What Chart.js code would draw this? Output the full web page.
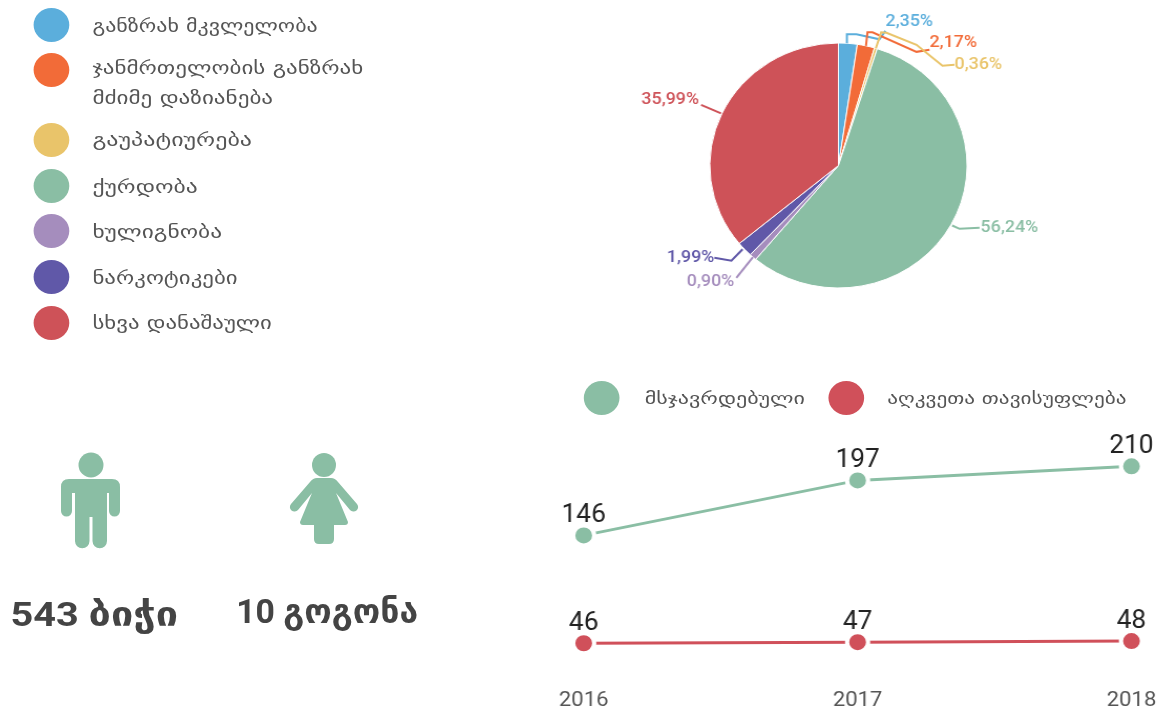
<!DOCTYPE html>
<html><head><meta charset="utf-8">
<script src="https://cdn.jsdelivr.net/npm/chart.js@4"></script>
<style>
html,body{margin:0;padding:0;background:#fff;width:1166px;height:709px;overflow:hidden}
#stage{position:absolute;left:0;top:0;width:1110.476px;height:709px;transform-origin:0 0;transform:scale(1.05,1);font-family:Roboto,"DejaVu Sans",sans-serif}
.t{position:absolute;white-space:nowrap;transform-origin:0 50%;color:#555;font-family:"DejaVu Sans",sans-serif;line-height:1.2}
.d{position:absolute;border-radius:50%;width:34px;height:34px;transform:translate(-50%,-50%)}
.w{position:absolute}
svg{position:absolute;left:0;top:0;width:100%;height:100%}
</style></head><body>
<div id="stage">
<svg viewBox="0 0 1166 709" preserveAspectRatio="none" fill="#8ABEA4">
  <circle cx="91" cy="465" r="12.5"/>
  <path d="M69 479H112Q120 479 120 487V511A5.5 5.5 0 0 1 109 511V493H107V541A7 7 0 0 1 92.5 541V517H89.5V541A7 7 0 0 1 75 541V493H72V511A5.5 5.5 0 0 1 61 511V487Q61 479 69 479Z"/>
  <circle cx="324" cy="465" r="12"/>
  <path d="M317 478H331Q335 478 338 482L357 504A4.500 4.500 0 0 1 350 510L336 493L348 522Q348 525 345 525H334V539Q334 544 329 544H319Q314 544 314 539V525H303Q300 525 300 522L312 493L298 510A4.500 4.500 0 0 1 291 504L310 482Q313 478 317 478Z"/>
</svg>
<div class="w" id="pieWrap" style="left:571.43px;top:0;width:438px;height:300px"><canvas id="pie"></canvas></div>
<div class="w" id="lineWrap" style="left:514.29px;top:420px;width:596.19px;height:289px"><canvas id="line"></canvas></div>
</div>
<script>
const STRETCH = 1.05;
const crimeLabels = ["განზრახ მკვლელობა","ჯანმრთელობის განზრახ","გაუპატიურება","ქურდობა","ხულიგნობა","ნარკოტიკები","სხვა დანაშაული"];
const crimeSecondLine = "მძიმე დაზიანება";
const crimeValues = [2.35,2.17,0.36,56.24,0.90,1.99,35.99];
const crimeColors = ["#5BAEDC","#F26B38","#E9C46A","#8ABEA4","#A58DBD","#6058A8","#CE5258"];
const years = ["2016","2017","2018"];
const convicted = [146,197,210];
const imprisoned = [46,47,48];
const seriesNames = ["მსჯავრდებული","აღკვეთა თავისუფლება"];
const seriesColors = ["#8ABEA4","#D0505A"];
const boys = "543 ბიჭი";
const girls = "10 გოგონა";

const stage = document.getElementById('stage');
/* place a text so it spans x .. x+span in the picture */
function text(str,x,y,size,span,extra){
  const e=document.createElement('div');e.className='t';e.textContent=str;
  e.style.left=(x/STRETCH)+'px';e.style.fontSize=size+'px';
  if(extra)Object.assign(e.style,extra);stage.appendChild(e);
  e.style.top=(y-e.offsetHeight/2)+'px';
  e.style.transform='scaleX('+(span/(e.offsetWidth*STRETCH)).toFixed(3)+')';
  return e;
}
function dot(x,y,c){
  const e=document.createElement('div');e.className='d';e.style.left=(x/STRETCH)+'px';e.style.top=y+'px';e.style.background=c;stage.appendChild(e);
}
const legendY=[25,70,140,186,231,277,323];
const textY=[26,68,140,187,232,278,323];
const legendSpan=[226,271,160,105,130,145,180];
crimeLabels.forEach((l,i)=>{dot(51,legendY[i],crimeColors[i]);text(l,92,textY[i],18,legendSpan[i]);});
text(crimeSecondLine,92,98,18,181);
dot(602,398,seriesColors[0]);dot(846,398,seriesColors[1]);
text(seriesNames[0],645,398,16,160);text(seriesNames[1],887,398,16,239);
const bold={fontWeight:'700',fontFamily:'Roboto,"DejaVu Sans",sans-serif',color:'#444'};
text(boys,11,615,33,167,bold);
text(girls,236,612,33,182,bold);

/* leader-line routes, as offsets from each slice's outer edge */
const leaderRoutes=[
 [[-1,0],[-1,-9],[8.5,-9],[31.5,-4],[37.5,-12.5]],
 [[0,0],[1.5,-13.5],[6.5,-13.5],[50.5,6],[63.5,4]],
 [[0,0],[5.3,-16],[10.6,-15.5],[40.6,-3.5],[66.6,17.5],[78.6,16.5]],
 [[1,1],[8.4,4.3],[28.4,3.3]],
 [[0,0],[-16.6,20.8]],
 [[-2,0],[-13.2,11.5],[-30.2,8.5]],
 [[-1,0],[-21,-8.5]]
];
const labelShift=[[0,-9],[0,-7],[0,0],[1,0],[-2,4],[0,0],[-2,-5]];
const leaders={id:'leaders',afterDatasetsDraw(ch){
  const c=ch.ctx,meta=ch.getDatasetMeta(0);
  c.save();c.font='500 17px Roboto';c.lineWidth=2;c.textBaseline='middle';
  meta.data.forEach((a,i)=>{
    const p=a.getProps(['x','y','startAngle','endAngle','outerRadius'],true);
    const m=(p.startAngle+p.endAngle)/2;
    const ax=p.x+p.outerRadius*Math.cos(m),ay=p.y+p.outerRadius*Math.sin(m);
    const r=leaderRoutes[i];
    c.strokeStyle=c.fillStyle=crimeColors[i];
    c.beginPath();
    r.forEach((o,k)=>{const X=ax+o[0]/STRETCH,Y=ay+o[1];k?c.lineTo(X,Y):c.moveTo(X,Y);});
    c.stroke();
    const e=r[r.length-1],s=labelShift[i];
    c.textAlign=e[0]<0?'right':'left';
    c.fillText(crimeValues[i].toFixed(2).replace('.',',')+'%',ax+(e[0]+s[0])/STRETCH,ay+e[1]+s[1]);
  });
  c.restore();
}};
new Chart(document.getElementById('pie'),{type:'pie',
  data:{labels:crimeLabels,datasets:[{data:crimeValues,backgroundColor:crimeColors,borderColor:'#fff',borderWidth:1}]},
  options:{responsive:true,maintainAspectRatio:false,animation:false,
    layout:{padding:{left:17,top:42.5,bottom:11.5}},
    plugins:{legend:{display:false},tooltip:{enabled:false}}},
  plugins:[leaders]});

const valueLabels={id:'valueLabels',afterDatasetsDraw(ch){
  const c=ch.ctx;c.save();c.font='400 25px Roboto';c.fillStyle='#222';c.textAlign='center';c.textBaseline='middle';
  ch.data.datasets.forEach((d,i)=>ch.getDatasetMeta(i).data.forEach((pt,k)=>c.fillText(d.data[k],pt.x,pt.y-19.5)));
  c.restore();
}};
function ds(name,data,col){return{label:name,data,borderColor:col,backgroundColor:col,borderWidth:3,pointRadius:10,pointBorderWidth:4,pointBorderColor:'#fff',pointBackgroundColor:col,tension:0};}
new Chart(document.getElementById('line'),{type:'line',
  data:{labels:years,datasets:[ds(seriesNames[0],convicted,seriesColors[0]),ds(seriesNames[1],imprisoned,seriesColors[1])]},
  options:{responsive:true,maintainAspectRatio:false,animation:false,
    layout:{padding:{left:41.9,right:26.6,top:14,bottom:0}},
    plugins:{legend:{display:false},tooltip:{enabled:false}},
    scales:{
      x:{offset:false,grid:{display:false},border:{display:false},
         ticks:{color:'#555',padding:9,maxRotation:0,autoSkip:false,font:{family:'Roboto',size:21}},
         afterFit(s){s.height=37.7;}},
      y:{display:false,min:20,max:240}
    }},
  plugins:[valueLabels]});
</script>
</body></html>
